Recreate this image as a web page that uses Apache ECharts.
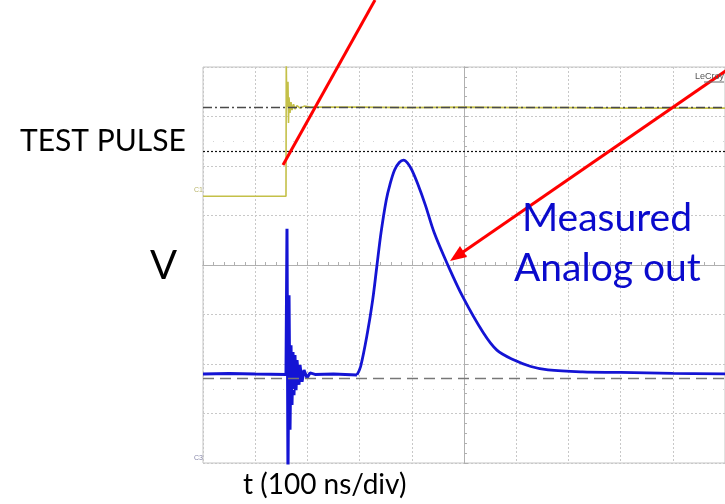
<!DOCTYPE html>
<html>
<head>
<meta charset="utf-8">
<script src="https://cdn.jsdelivr.net/npm/echarts@6/dist/echarts.min.js"></script>
<style>
  html, body { margin: 0; padding: 0; background: #fff; }
  #chart { width: 725px; height: 504px; }
</style>
</head>
<body>
<div id="chart"></div>
<script>
// time in ns (100 ns/div, screen centre = 0), amplitude in divisions
var timeRange = [-500, 500];
var voltRange = [-4, 4];

// C1 : test pulse (yellow)
var c1Time = [-500, -341, -340.5, -339.5, -337.2, -336.2, -335.2, -333.3, -331.4, -329.5, -326.6, -323.8, -320, -314, -306, -295, -200, -100, 0, 100, 200, 300, 400, 500];
var c1Volt = [1.39, 1.39, 4.1, 3.19, 3.70, 2.87, 3.39, 3.07, 3.29, 3.13, 3.25, 3.15, 3.22, 3.17, 3.21, 3.19, 3.19, 3.18, 3.19, 3.18, 3.18, 3.17, 3.17, 3.17];

// C3 : injection ringing right after the step
var ringTime = [-500, -450, -400, -341, -339.1, -337.2, -335.2, -333.3, -331.4, -329.5, -327.6, -325.7, -323.8, -321.8, -319.9, -316.1, -314.2, -310.3, -306.5, -300.8, -295, -285.4, -250, -205];
var ringVolt = [-2.2, -2.19, -2.2, -2.21, 0.73, -4.3, -0.61, -3.33, -1.62, -2.83, -1.76, -2.63, -1.82, -2.53, -1.92, -2.42, -2.02, -2.36, -2.12, -2.28, -2.18, -2.21, -2.2, -2.22];

// C3 : measured analog out pulse
var pulseTime = [-205, -198, -185, -175, -167, -159, -149, -142, -133, -124, -116, -108, -100, -88, -74, -57, -31, -2, 37, 63, 96, 128, 161, 227, 300, 400, 500];
var pulseVolt = [-2.22, -2.05, -1.37, -0.71, -0.03, 0.65, 1.31, 1.62, 1.92, 2.07, 2.12, 2.06, 1.92, 1.62, 1.21, 0.65, 0.0, -0.65, -1.37, -1.72, -1.92, -2.05, -2.12, -2.16, -2.17, -2.19, -2.2];

// reference levels (divisions)
var c1Level = 3.19;
var trigLevel = 2.30;
var c3Level = -2.28;
var halfMarks = [2.5, -2.5];

function pairs(xs, ys) {
  return xs.map(function (x, i) { return [x, ys[i]]; });
}

var tickColor = '#b0b0b0';
function centreAxis(extra) {
  var a = {
    type: 'value', interval: 1,
    axisLabel: { show: false },
    axisLine: { show: true, onZero: true, lineStyle: { color: tickColor, width: 1 } },
    axisTick: { show: true, inside: true, length: 4, lineStyle: { color: tickColor } },
    minorTick: { show: true, splitNumber: 5, length: 3, lineStyle: { color: tickColor } },
    splitLine: { show: true, lineStyle: { color: '#c8c8c8', type: [2, 2] } }
  };
  return Object.assign(a, extra);
}

var myChart = echarts.init(document.getElementById('chart'));

var option = {
  backgroundColor: '#ffffff',
  animation: false,
  grid: {
    left: 203, top: 67, right: 0, bottom: 41,
    show: true, borderColor: '#c4c4c4', borderWidth: 1
  },
  xAxis: [
    centreAxis({ min: timeRange[0], max: timeRange[1], interval: 100 }),
    centreAxis({ min: timeRange[0], max: timeRange[1], interval: 100,
      axisTick: { show: true, inside: false, length: 4, lineStyle: { color: tickColor } },
      splitLine: { show: false } })
  ],
  yAxis: [
    centreAxis({ min: voltRange[0], max: voltRange[1] }),
    centreAxis({ min: voltRange[0], max: voltRange[1],
      axisTick: { show: true, inside: false, length: 4, lineStyle: { color: tickColor } },
      splitLine: { show: false } })
  ],
  series: [
    {
      name: 'levels',
      type: 'line',
      data: [],
      markLine: {
        silent: true,
        symbol: 'none',
        label: { show: false },
        data: [
          { yAxis: c1Level, lineStyle: { color: '#4a4a4a', width: 1.3, type: [9, 3, 2, 3] } },
          { yAxis: trigLevel, lineStyle: { color: '#111', width: 1.2, type: [2, 2] } },
          { yAxis: c3Level, lineStyle: { color: '#777', width: 1.3, type: [11, 6] } },
          { yAxis: halfMarks[0], lineStyle: { color: '#d4d4d4', width: 1, type: [1, 9] } },
          { yAxis: halfMarks[1], lineStyle: { color: '#d4d4d4', width: 1, type: [1, 9] } }
        ]
      }
    },
    {
      name: 'C1',
      type: 'line',
      data: pairs(c1Time, c1Volt),
      showSymbol: false,
      clip: true,
      lineStyle: { color: '#c4c048', width: 1.6 },
      z: 3
    },
    {
      name: 'C3 ringing',
      type: 'line',
      data: pairs(ringTime, ringVolt),
      showSymbol: false,
      clip: true,
      lineStyle: { color: '#1414d4', width: 3 },
      z: 4
    },
    {
      name: 'C3',
      type: 'line',
      data: pairs(pulseTime, pulseVolt),
      smooth: 0.35,
      showSymbol: false,
      clip: true,
      lineStyle: { color: '#1414d4', width: 2.8 },
      z: 4
    }
  ],
  graphic: [
    { type: 'line', shape: { x1: 283, y1: 165, x2: 375, y2: 0 }, style: { stroke: '#ff0000', lineWidth: 3 }, z: 10 },
    { type: 'line', shape: { x1: 727, y1: 70, x2: 458, y2: 255.5 }, style: { stroke: '#ff0000', lineWidth: 3 }, z: 10 },
    { type: 'polygon', shape: { points: [[450, 261], [467, 257], [460, 246]] }, style: { fill: '#ff0000' }, z: 10 },
    { type: 'text', x: 20, y: 156, style: { text: 'TEST PULSE', font: '30px Lato', fill: '#000', textVerticalAlign: 'bottom' }, z: 10 },
    { type: 'text', x: 150, y: 286, style: { text: 'V', font: '40px Lato', fill: '#000', textVerticalAlign: 'bottom' }, z: 10 },
    { type: 'text', x: 522, y: 238, style: { text: 'Measured', font: '39px Lato', fill: '#0a0acc', textVerticalAlign: 'bottom' }, z: 10 },
    { type: 'text', x: 514, y: 288, style: { text: 'Analog out', font: '39px Lato', fill: '#0a0acc', textVerticalAlign: 'bottom' }, z: 10 },
    { type: 'text', x: 243, y: 499, style: { text: 't (100 ns/div)', font: '28px Lato', fill: '#000', textVerticalAlign: 'bottom' }, z: 10 },
    { type: 'text', x: 724, y: 81, style: { text: 'LeCroy', font: '9px Liberation Sans Narrow, Liberation Sans', fill: '#555', textAlign: 'right', textVerticalAlign: 'bottom' }, z: 10 },
    { type: 'line', shape: { x1: 704, y1: 82, x2: 724, y2: 82 }, style: { stroke: '#666', lineWidth: 1 }, z: 10 },
    { type: 'text', x: 194, y: 194, style: { text: 'C1', font: '7px Liberation Sans', fill: '#b8b46a', textVerticalAlign: 'bottom' }, z: 10 },
    { type: 'text', x: 194, y: 462, style: { text: 'C3', font: '7px Liberation Sans', fill: '#8888aa', textVerticalAlign: 'bottom' }, z: 10 }
  ]
};

myChart.setOption(option);
</script>
</body>
</html>
